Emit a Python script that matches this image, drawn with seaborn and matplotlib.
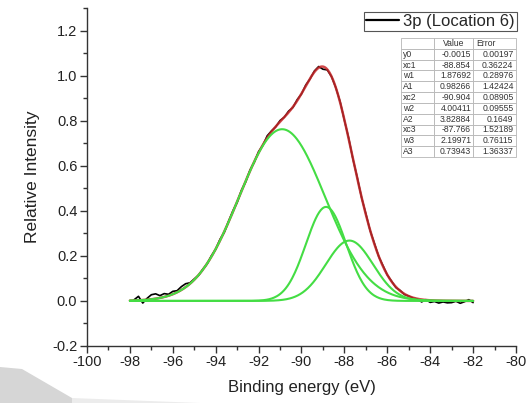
import numpy as np
import pandas as pd
import matplotlib
matplotlib.use("Agg")
import matplotlib.pyplot as plt
from matplotlib.lines import Line2D
from matplotlib.patches import Polygon
from matplotlib.ticker import MultipleLocator
import seaborn as sns

# Measured 3p spectrum (Location 6), relative intensity vs binding energy
energy_start, energy_step = -97.8, 0.2
intensity = [
    0.004, 0.019, -0.011, 0.010, 0.026, 0.030, 0.022, 0.031, 0.028, 0.041,
    0.044, 0.062, 0.075, 0.079, 0.096, 0.112, 0.139, 0.163, 0.199, 0.228,
    0.272, 0.303, 0.352, 0.398, 0.436, 0.490, 0.528, 0.580, 0.615, 0.662,
    0.690, 0.732, 0.754, 0.772, 0.800, 0.815, 0.842, 0.858, 0.893, 0.918,
    0.958, 0.985, 1.020, 1.040, 1.028, 1.025, 0.995, 0.946, 0.884, 0.801,
    0.722, 0.628, 0.547, 0.458, 0.386, 0.311, 0.254, 0.196, 0.155, 0.114,
    0.086, 0.058, 0.045, 0.027, 0.020, 0.011, 0.007, -0.006, 0.004, -0.008,
    -0.004, -0.011, -0.006, -0.010, -0.009, -0.003, -0.012, -0.005, 0.004, -0.009,
]

# Gaussian fit parameters (Origin "Gauss" form) and their errors
param_names = ["y0", "xc1", "w1", "A1", "xc2", "w2", "A2", "xc3", "w3", "A3"]
param_values = ["-0.0015", "-88.854", "1.87692", "0.98266", "-90.904",
                "4.00411", "3.82884", "-87.766", "2.19971", "0.73943"]
param_errors = ["0.00197", "0.36224", "0.28976", "1.42424", "0.08905",
                "0.09555", "0.1649", "1.52189", "0.76115", "1.36337"]
fit_range = (-98.0, -82.0)

legend_label = "3p (Location 6)"
x_label = "Binding energy (eV)"
y_label = "Relative Intensity"

energy = energy_start + energy_step * np.arange(len(intensity))
p = dict(zip(param_names, (float(v) for v in param_values)))


def gauss(x, xc, w, A):
    return A / (w * np.sqrt(np.pi / 2)) * np.exp(-2 * ((x - xc) / w) ** 2)


xf = np.linspace(*fit_range, 400)
components = [gauss(xf, p[f"xc{i}"], p[f"w{i}"], p[f"A{i}"]) for i in (1, 2, 3)]
fit_total = p["y0"] + sum(components)

data = pd.DataFrame({"energy": energy, "intensity": intensity})
fit_df = pd.DataFrame({"energy": xf, "intensity": fit_total})
comp_df = pd.concat(
    [pd.DataFrame({"energy": xf, "intensity": p["y0"] + c, "peak": f"peak {i}"})
     for i, c in enumerate(components, start=1)],
    ignore_index=True,
)

sns.set_style("ticks")
plt.rcParams["font.family"] = ["Liberation Sans", "DejaVu Sans"]

W, H = 529, 403
fig = plt.figure(figsize=(W / 100, H / 100), dpi=100)
ax = fig.add_axes([87 / W, 1 - 345.6 / H, (516 - 87) / W, (345.6 - 8) / H])

sns.lineplot(data=data, x="energy", y="intensity", color="black", lw=1.2,
             ax=ax, zorder=3)
sns.lineplot(data=fit_df, x="energy", y="intensity", color="#c8282a", lw=1.8,
             alpha=0.85, ax=ax, zorder=4)
sns.lineplot(data=comp_df, x="energy", y="intensity", units="peak",
             estimator=None, color="#44dd44", lw=1.5, ax=ax, zorder=5)

ax.set_xlim(-100, -80)
ax.set_ylim(-0.2, 1.3)
ax.xaxis.set_minor_locator(MultipleLocator(1))
ax.yaxis.set_minor_locator(MultipleLocator(0.1))
ax.set_yticks(np.arange(-0.2, 1.21, 0.2))
ax.set_yticklabels([f"{v:.1f}" for v in np.arange(-0.2, 1.21, 0.2)])
ax.set_xticks(np.arange(-100, -79, 2))
ax.set_xticklabels([f"{v:d}" for v in range(-100, -79, 2)])

for side in ("top", "right"):
    ax.spines[side].set_visible(False)
for side in ("left", "bottom"):
    ax.spines[side].set_color("#333333")
    ax.spines[side].set_linewidth(1.0)
ax.tick_params(which="major", direction="out", length=5, width=1.0,
               color="#333333", labelsize=10.5, labelcolor="#222222", pad=2)
ax.tick_params(which="minor", direction="out", length=3, width=1.0,
               color="#333333")

ax.set_xlabel(x_label, fontsize=12, color="#222222", labelpad=8)
ax.set_ylabel(y_label, fontsize=12.5, color="#222222", labelpad=9)

handle = Line2D([], [], color="black", lw=1.6)
leg = ax.legend([handle], [legend_label], loc="upper right",
                bbox_to_anchor=(517 / W, 1 - 12 / H),
                bbox_transform=fig.transFigure, fontsize=12,
                handlelength=2.0, handletextpad=0.25, borderpad=0.12,
                borderaxespad=0, fancybox=False, framealpha=1)
leg.get_frame().set_edgecolor("#555555")
leg.get_frame().set_linewidth(0.8)

# Parameter table
x0_ax = (401 - 87) / (516 - 87)
w_ax = (516 - 401) / (516 - 87)
y_bot = (345.6 - 157) / (345.6 - 8)
y_top = (345.6 - 38) / (345.6 - 8)
rows = [[n, v, e] for n, v, e in zip(param_names, param_values, param_errors)]
tab = ax.table(cellText=rows, colLabels=["", "Value", "Error"],
               colWidths=[0.29, 0.34, 0.37],
               bbox=[x0_ax, y_bot, w_ax, y_top - y_bot], zorder=6)
tab.auto_set_font_size(False)
for (r, c), cell in tab.get_celld().items():
    cell.set_edgecolor("#b5b5b5")
    cell.set_linewidth(0.6)
    cell.set_facecolor("white")
    txt = cell.get_text()
    txt.set_fontsize(6.2)
    txt.set_color("#333333")
    cell.PAD = 0.06
    if c == 0:
        cell.set_text_props(ha="left")
    elif r == 0:
        cell.set_text_props(ha="center" if c == 1 else "left")
    else:
        cell.set_text_props(ha="right")

# light grey wedge along the lower left edge
fig.patches.append(Polygon(
    [(0, 1 - 367 / H), (22 / W, 1 - 369 / H), (72 / W, 1 - 398 / H),
     (72 / W, 0), (0, 0)], closed=True, transform=fig.transFigure,
    facecolor="#d6d6d6", edgecolor="none", zorder=0))
fig.patches.append(Polygon(
    [(72 / W, 1 - 398 / H), (200 / W, 0), (72 / W, 0)], closed=True,
    transform=fig.transFigure, facecolor="#ececec", edgecolor="none", zorder=0))

fig.savefig("out.png", dpi=100)
